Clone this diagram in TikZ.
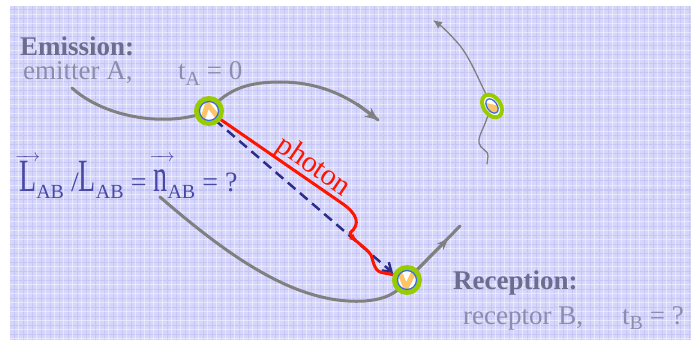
\documentclass[tikz,border=0pt]{standalone}
\usepackage{fontspec}
\usepackage{graphicx}
\setmainfont{Liberation Serif}
\usetikzlibrary{arrows.meta,shapes.geometric,decorations.markings}
\definecolor{bgc}{RGB}{214,214,251}
\definecolor{gridd}{RGB}{197,197,247}
\definecolor{headc}{RGB}{108,108,142}
\definecolor{lightc}{RGB}{140,140,172}
\definecolor{formc}{RGB}{72,72,165}
\definecolor{trajc}{RGB}{128,128,128}
\definecolor{ringc}{RGB}{153,204,0}
\definecolor{innerc}{RGB}{58,108,224}
\definecolor{orangec}{RGB}{255,196,102}
\definecolor{photonc}{RGB}{255,20,0}
\definecolor{dashc}{RGB}{44,44,138}
\newcommand\sbs[1]{\raisebox{-0.22em}{\fontsize{20}{20}\selectfont #1}}
\newcommand\tallL{\scalebox{1}[1.65]{L}}
\newcommand\talln{\scalebox{1}[1.65]{n}}
\newcommand\vecover[1]{\makebox[0pt][l]{\kern-4pt\raisebox{32pt}{\fontsize{18}{18}\selectfont$\overrightarrow{\hbox to 25pt{}}$}}#1}
\tikzset{
  heading/.style={anchor=base west, inner sep=0, text=headc, font=\bfseries\fontsize{27}{30}\selectfont},
  plain/.style={anchor=base west, inner sep=0, text=lightc, font=\fontsize{27}{30}\selectfont},
  formula/.style={anchor=base west, inner sep=0, text=formc, font=\fontsize{28}{30}\selectfont},
  traj/.style={draw=trajc, line width=3pt, line cap=round},
  thintraj/.style={draw=trajc, line width=1.3pt, line cap=round},
  bodyring/.style={circle, draw=ringc, line width=5pt, fill=white, minimum size=25pt, inner sep=0},
  innerring/.style={draw=innerc, line width=1.3pt},
  chevron/.style={draw=orangec, line width=5pt, line cap=butt, line join=miter},
  photonline/.style={draw=photonc, line width=3pt, line cap=round, line join=round},
  dashline/.style={draw=dashc, line width=2.5pt, dash pattern=on 10pt off 6pt},
}
\begin{document}
\begin{tikzpicture}[x=1pt,y=-1pt]
\useasboundingbox (0,0) rectangle (691,342);
% background texture
\fill[bgc] (10,6) rectangle (691,340);
\foreach \x in {14,23,...,691} \draw[gridd, line width=1pt] (\x,6) -- (\x,340);
\foreach \y in {10,19,...,340} \draw[gridd, line width=1pt] (10,\y) -- (691,\y);
\foreach \x in {18.5,27.5,...,691} \draw[white, opacity=0.45, line width=0.7pt] (\x,6) -- (\x,340);
\foreach \y in {14.5,23.5,...,340} \draw[white, opacity=0.45, line width=0.7pt] (10,\y) -- (691,\y);

% texts
\node[heading] (emi) at (20,56) {Emission:};
\node[plain] (emA) at (23,80) {emitter A,};
\node[plain] (tA) at (178,80) {t\sbs{A} = 0};
\node[heading] (rec) at (453,289) {Reception:};
\node[plain] (recB) at (463,324) {receptor B,};
\node[plain] (tB) at (622,324) {t\sbs{B} = ?};
\node[formula] (form) at (19,192) {\vecover{\tallL}\sbs{AB} /\tallL\sbs{AB} = \vecover{\talln}\sbs{AB} = ?};

% named points
\coordinate (A) at (209,111);
\coordinate (B) at (407,280);
\coordinate (C) at (492,106);
\coordinate (e0) at (72,88);
\coordinate (e1) at (378,120);
\coordinate (r0) at (160,197);
\coordinate (r1) at (460,226);
\coordinate (r2) at (448,239);
\coordinate (p0) at (433,20);
\coordinate (p1) at (487,164);

% trajectories
\draw[traj] (e0) .. controls (105,118) and (168,128) .. (A)
  .. controls (228,88) and (250,82) .. (280,82)
  .. controls (322,82) and (352,98) .. (e1);
\draw[trajc, line width=3pt, -{Stealth[length=13pt,width=11pt]}] (357,104) -- (e1);
\draw[traj] (r0) .. controls (235,262) and (300,305) .. (365,301)
  .. controls (388,299) and (398,292) .. (B);
\draw[traj] (B) -- (r1);
\draw[trajc, line width=2.5pt, -{Stealth[length=11pt,width=9pt]}] (B) -- (r2);

% thin probe trajectory
\draw[thintraj, -{Latex[length=9pt,width=8pt]}] (C) .. controls (478,80) and (470,55) .. (455,40)
  .. controls (447,31) and (440,25) .. (p0);
\draw[thintraj] (C) -- (487,118) .. controls (484,128) and (478,136) .. (479,143)
  .. controls (480,149) and (489,151) .. (488,156) -- (p1);

% photon and straight line
\draw[dashline, -{Straight Barb[length=8pt,width=11pt]}] (A) ++(6,9) -- (393,273);
\draw[photonline, postaction={decorate}, decoration={markings, mark=at position 0.785 with {\arrow{Stealth[length=8pt,width=7pt]}}}]
  (A) ++(8,6) -- (343,204) .. controls (357,214) and (361,224) .. (350,233)
  .. controls (353,241) and (366,247) .. (371,255)
  .. controls (374,263) and (374,272) .. (384,273) -- (395,275);
\node[text=photonc, rotate=-34.5, font=\fontsize{30}{30}\selectfont, inner sep=0, anchor=base] (ph) at (309,173) {photon};

% bodies
\node[bodyring] (Anode) at (A) {};
\begin{scope}
  \clip (A) circle[radius=9.5];
  \draw[chevron] (202,121) -- (207.5,104) -- (217,116);
\end{scope}
\draw[innerring] (A) circle[radius=9.5];

\node[bodyring] (Bnode) at (B) {};
\begin{scope}
  \clip (B) circle[radius=9.5];
  \draw[chevron] (399,271) -- (406,288) -- (414,272);
\end{scope}
\draw[innerring] (B) circle[radius=9.5];

\node[ellipse, draw=ringc, line width=4pt, fill=white, minimum width=25pt, minimum height=17pt, inner sep=0, rotate=-55] (Cnode) at (C) {};
\begin{scope}[rotate around={-55:(C)}]
  \begin{scope}
    \clip (C) ellipse[x radius=8, y radius=5];
    \fill[orangec] (C) ellipse[x radius=8, y radius=5];
    \fill[white] (485,110) -- (496,100) -- (484,100) -- cycle;
  \end{scope}
  \draw[innerring] (C) ellipse[x radius=8, y radius=5];
\end{scope}
\end{tikzpicture}
\end{document}
